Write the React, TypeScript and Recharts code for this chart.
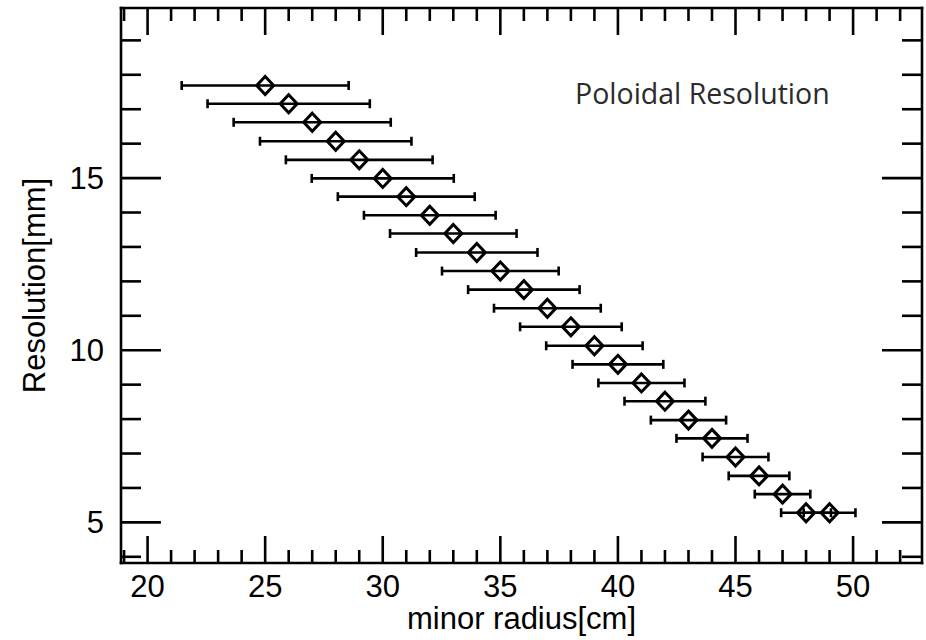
import React from 'react';
import { ScatterChart, Scatter, XAxis, YAxis, ErrorBar } from 'recharts';

// minor radius [cm] of each chord
const radius = [25, 26, 27, 28, 29, 30, 31, 32, 33, 34, 35, 36, 37, 38, 39, 40, 41, 42, 43, 44, 45, 46, 47, 48, 49];
// poloidal resolution [mm]
const resolution = [
  17.69, 17.16, 16.62, 16.07, 15.53, 14.99, 14.46, 13.92, 13.39, 12.84, 12.3, 11.76, 11.22,
  10.68, 10.13, 9.59, 9.05, 8.52, 7.97, 7.44, 6.9, 6.35, 5.82, 5.28, 5.28,
];
// half width of the horizontal error bar [cm]
const radiusError = [
  3.55, 3.45, 3.34, 3.22, 3.12, 3.02, 2.91, 2.8, 2.69, 2.58, 2.48, 2.37, 2.27,
  2.16, 2.05, 1.93, 1.83, 1.72, 1.6, 1.51, 1.4, 1.29, 1.18, 1.06, 1.1,
];

const xTicks = [19, 20, 21, 22, 23, 24, 25, 26, 27, 28, 29, 30, 31, 32, 33, 34, 35, 36, 37, 38, 39, 40, 41, 42, 43, 44, 45, 46, 47, 48, 49, 50, 51, 52];
const yTicks = [4, 5, 6, 7, 8, 9, 10, 11, 12, 13, 14, 15, 16, 17, 18, 19];
const xDomain = [18.87, 52.93];
const yDomain = [3.82, 19.94];

const data = radius.map((r, i) => ({ r, res: resolution[i], err: radiusError[i] }));

const FONT = '"Liberation Sans", Arial, Helvetica, sans-serif';
const LW = 2.6;

const isMajor = (v: number) => v % 5 === 0;

// IDL style ticks: drawn inwards, long on majors, labels only on bottom/left
const BottomTick = ({ x, y, payload }: any) => (
  <g>
    <line x1={x} y1={y} x2={x} y2={y - (isMajor(payload.value) ? 27 : 13)} stroke="#000" strokeWidth={LW} />
    {isMajor(payload.value) && (
      <text x={x} y={y + 34} textAnchor="middle" fontFamily={FONT} fontSize={31} fill="#000">
        {payload.value}
      </text>
    )}
  </g>
);

const TopTick = ({ x, y, payload }: any) => (
  <line x1={x} y1={y} x2={x} y2={y + (isMajor(payload.value) ? 27 : 13)} stroke="#000" strokeWidth={LW} />
);

const LeftTick = ({ x, y, payload }: any) => (
  <g>
    <line x1={x} y1={y} x2={x + (isMajor(payload.value) ? 40 : 20)} y2={y} stroke="#000" strokeWidth={LW} />
    {isMajor(payload.value) && (
      <text x={x - 17} y={y + 11} textAnchor="end" fontFamily={FONT} fontSize={31} fill="#000">
        {payload.value}
      </text>
    )}
  </g>
);

const RightTick = ({ x, y, payload }: any) => (
  <line x1={x} y1={y} x2={x - (isMajor(payload.value) ? 40 : 20)} y2={y} stroke="#000" strokeWidth={LW} />
);

const Diamond = ({ cx, cy }: any) => (
  <path
    d={`M${cx},${cy - 9}L${cx + 8.5},${cy}L${cx},${cy + 9}L${cx - 8.5},${cy}Z`}
    fill="none"
    stroke="#000"
    strokeWidth={3}
  />
);

const axisLine = { stroke: '#000', strokeWidth: LW, strokeLinecap: 'square' as const };

export default function App() {
  return (
    <div style={{ position: 'absolute', left: 0, top: 0, width: 926, height: 640, background: '#fff' }}>
      <ScatterChart width={926} height={640} margin={{ top: 7, right: 3, bottom: 0, left: 0 }}>
        <XAxis
          xAxisId="b"
          type="number"
          dataKey="r"
          domain={xDomain}
          allowDataOverflow
          ticks={xTicks}
          interval={0}
          tickSize={0}
          tickMargin={0}
          tickLine={false}
          axisLine={axisLine}
          tick={<BottomTick />}
          height={77}
          label={{ value: 'minor radius[cm]', position: 'insideBottom', offset: 11, fontFamily: FONT, fontSize: 31, fill: '#000' }}
        />
        <XAxis
          xAxisId="t"
          orientation="top"
          type="number"
          dataKey="r"
          domain={xDomain}
          allowDataOverflow
          ticks={xTicks}
          interval={0}
          tickSize={0}
          tickMargin={0}
          tickLine={false}
          axisLine={axisLine}
          tick={<TopTick />}
          height={1}
        />
        <YAxis
          yAxisId="l"
          type="number"
          dataKey="res"
          domain={yDomain}
          allowDataOverflow
          ticks={yTicks}
          interval={0}
          tickSize={0}
          tickMargin={0}
          tickLine={false}
          axisLine={axisLine}
          tick={<LeftTick />}
          width={121}
          label={{
            value: 'Resolution[mm]',
            angle: -90,
            position: 'insideLeft',
            offset: 34,
            style: { textAnchor: 'middle' },
            fontFamily: FONT,
            fontSize: 31,
            fill: '#000',
          }}
        />
        <YAxis
          yAxisId="r"
          orientation="right"
          type="number"
          dataKey="res"
          domain={yDomain}
          allowDataOverflow
          ticks={yTicks}
          interval={0}
          tickSize={0}
          tickMargin={0}
          tickLine={false}
          axisLine={axisLine}
          tick={<RightTick />}
          width={1}
        />
        <Scatter xAxisId="b" yAxisId="l" data={data} shape={<Diamond />} isAnimationActive={false}>
          <ErrorBar dataKey="err" direction="x" width={4.5} strokeWidth={LW} stroke="#000" isAnimationActive={false} />
        </Scatter>
      </ScatterChart>
      <div
        style={{
          position: 'absolute',
          left: 575,
          top: 79,
          fontFamily: '"Open Sans", sans-serif',
          fontSize: 28.5,
          lineHeight: 1,
          color: '#2b2b2b',
          whiteSpace: 'nowrap',
        }}
      >
        Poloidal Resolution
      </div>
    </div>
  );
}
